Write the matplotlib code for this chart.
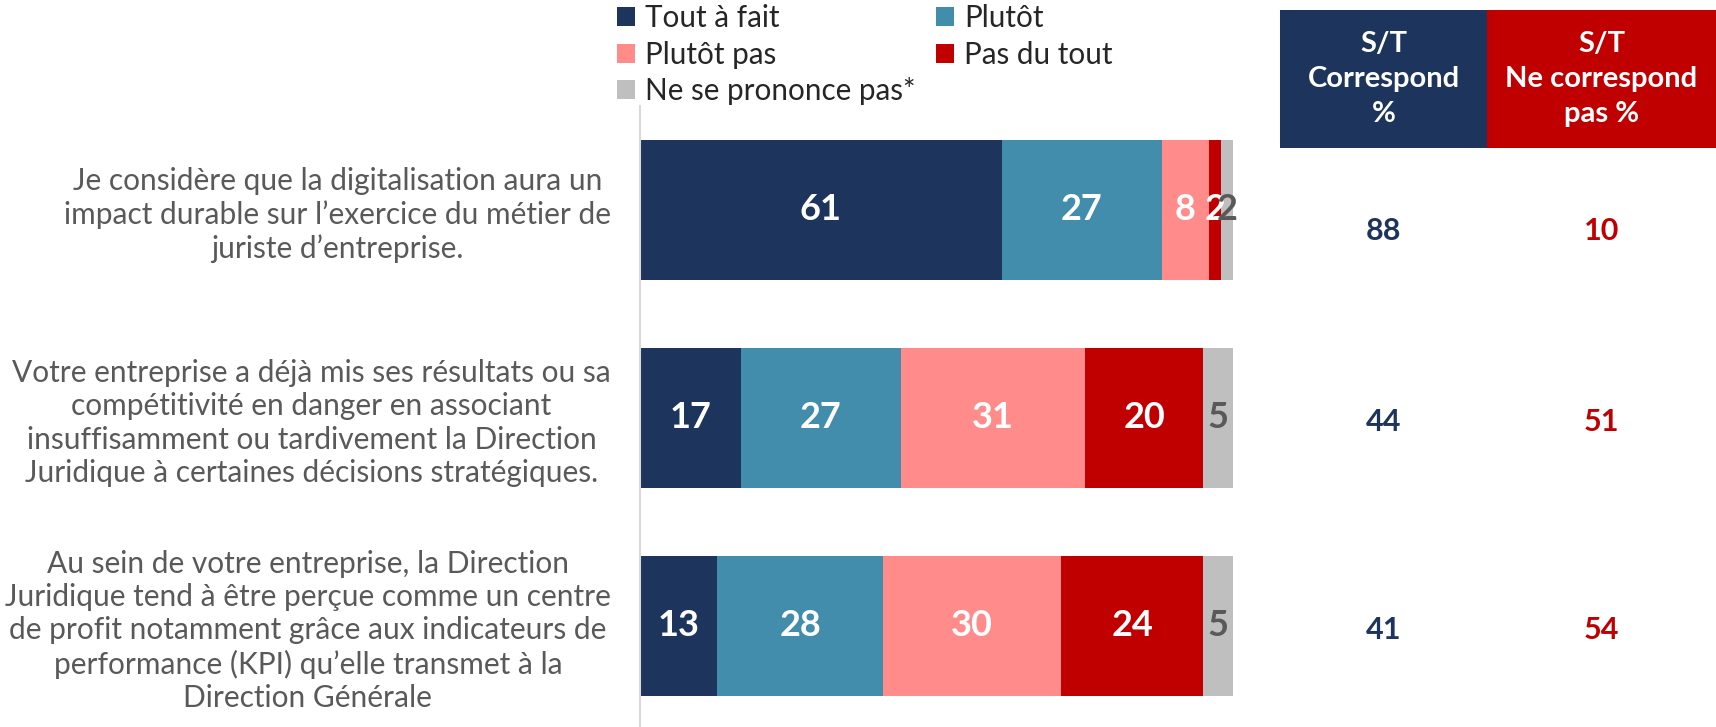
import matplotlib
matplotlib.use("Agg")
import matplotlib.pyplot as plt
from matplotlib.patches import Patch, Rectangle
from matplotlib.transforms import blended_transform_factory
import numpy as np

categories = [
    "Je considère que la digitalisation aura un\nimpact durable sur l’exercice du métier de\njuriste d’entreprise.",
    "Votre entreprise a déjà mis ses résultats ou sa\ncompétitivité en danger en associant\ninsuffisamment ou tardivement la Direction\nJuridique à certaines décisions stratégiques.",
    "Au sein de votre entreprise, la Direction\nJuridique tend à être perçue comme un centre\nde profit notamment grâce aux indicateurs de\nperformance (KPI) qu’elle transmet à la\nDirection Générale",
]
series_names = ["Tout à fait", "Plutôt", "Plutôt pas", "Pas du tout", "Ne se prononce pas*"]
tout_a_fait = [61, 17, 13]
plutot = [27, 27, 28]
plutot_pas = [8, 31, 30]
pas_du_tout = [2, 20, 24]
nsp = [2, 5, 5]
st_correspond = [88, 44, 41]
st_ne_correspond = [10, 51, 54]
header_left = "S/T\nCorrespond\n%"
header_right = "S/T\nNe correspond\npas %"

colors = ["#1D355C", "#428DAB", "#FF8B8B", "#C00000", "#BFBFBF"]
label_colors = ["white", "white", "white", "white", "#595959"]
NAVY = "#1D355C"
RED = "#C00000"
GRAY_TXT = "#595959"

plt.rcParams['font.family'] = ['Lato', 'DejaVu Sans']

W, H = 1716, 727
fig = plt.figure(figsize=(W / 100, H / 100), dpi=100)
ax = fig.add_axes([640 / W, 0, 593 / W, (727 - 106) / H])

series = [tout_a_fait, plutot, plutot_pas, pas_du_tout, nsp]
y = np.arange(len(categories))
left = np.zeros(len(categories))
handles = []
for name, vals, col, lc in zip(series_names, series, colors, label_colors):
    vals = np.array(vals, dtype=float)
    bars = ax.barh(y, vals, left=left, height=0.67, color=col, edgecolor="none")
    for b, v in zip(bars, vals):
        cx = b.get_x() + b.get_width() / 2
        ax.text(cx, b.get_y() + b.get_height() / 2, f"{int(v)}", ha="center", va="center",
                color=lc, fontsize=26, fontweight="bold")
    left += vals
    handles.append(Patch(facecolor=col, edgecolor="none", label=name))

ax.set_xlim(0, 100)
ax.set_ylim(2.486, -0.5)
ax.set_yticks(y)
ax.set_yticklabels(categories, ha="right", multialignment="center", fontsize=21.5,
                   color=GRAY_TXT, linespacing=1.22)
ax.tick_params(axis="y", length=0, pad=21)
ax.set_xticks([])
for s in ["top", "right", "bottom"]:
    ax.spines[s].set_visible(False)
ax.spines["left"].set_color("#D9D9D9")
ax.spines["left"].set_linewidth(1.5)

# Right-side summary columns (slightly below bar centres, as in the original)
tr = blended_transform_factory(fig.transFigure, ax.transData)
xl = (1280 + 1487) / 2 / W
xr = (1487 + 1716) / 2 / W
row_offsets = [0.10, 0.02, 0.02]
for yi, off, a, b in zip(y, row_offsets, st_correspond, st_ne_correspond):
    ax.text(xl, yi + off, f"{a}", transform=tr, ha="center", va="center", color=NAVY,
            fontsize=22, fontweight="bold")
    ax.text(xr, yi + off, f"{b}", transform=tr, ha="center", va="center", color=RED,
            fontsize=22, fontweight="bold")

# Header boxes
fig.patches.append(Rectangle((1280 / W, 1 - 148 / H), 207 / W, 138 / H,
                             transform=fig.transFigure, facecolor=NAVY, edgecolor="none"))
fig.patches.append(Rectangle((1487 / W, 1 - 148 / H), 229 / W, 138 / H,
                             transform=fig.transFigure, facecolor=RED, edgecolor="none"))
fig.text(xl, 1 - 79 / H, header_left, ha="center", va="center", color="white",
         fontsize=21, fontweight="bold", linespacing=1.42)
fig.text(xr, 1 - 79 / H, header_right, ha="center", va="center", color="white",
         fontsize=21, fontweight="bold", linespacing=1.42)

# Legend (column-wise fill: reorder to match rows)
order = [0, 2, 4, 1, 3]
leg = fig.legend([handles[i] for i in order], [series_names[i] for i in order],
                 ncol=2, loc="upper left", bbox_to_anchor=(614 / W, 1 - 1 / H),
                 frameon=False, fontsize=21.3, handlelength=0.6, handleheight=0.6,
                 handletextpad=0.35, columnspacing=0.7, labelspacing=0.29,
                 borderaxespad=0.0, borderpad=0.1)
for t in leg.get_texts():
    t.set_color("#262626")

fig.savefig("out.png", dpi=100)
